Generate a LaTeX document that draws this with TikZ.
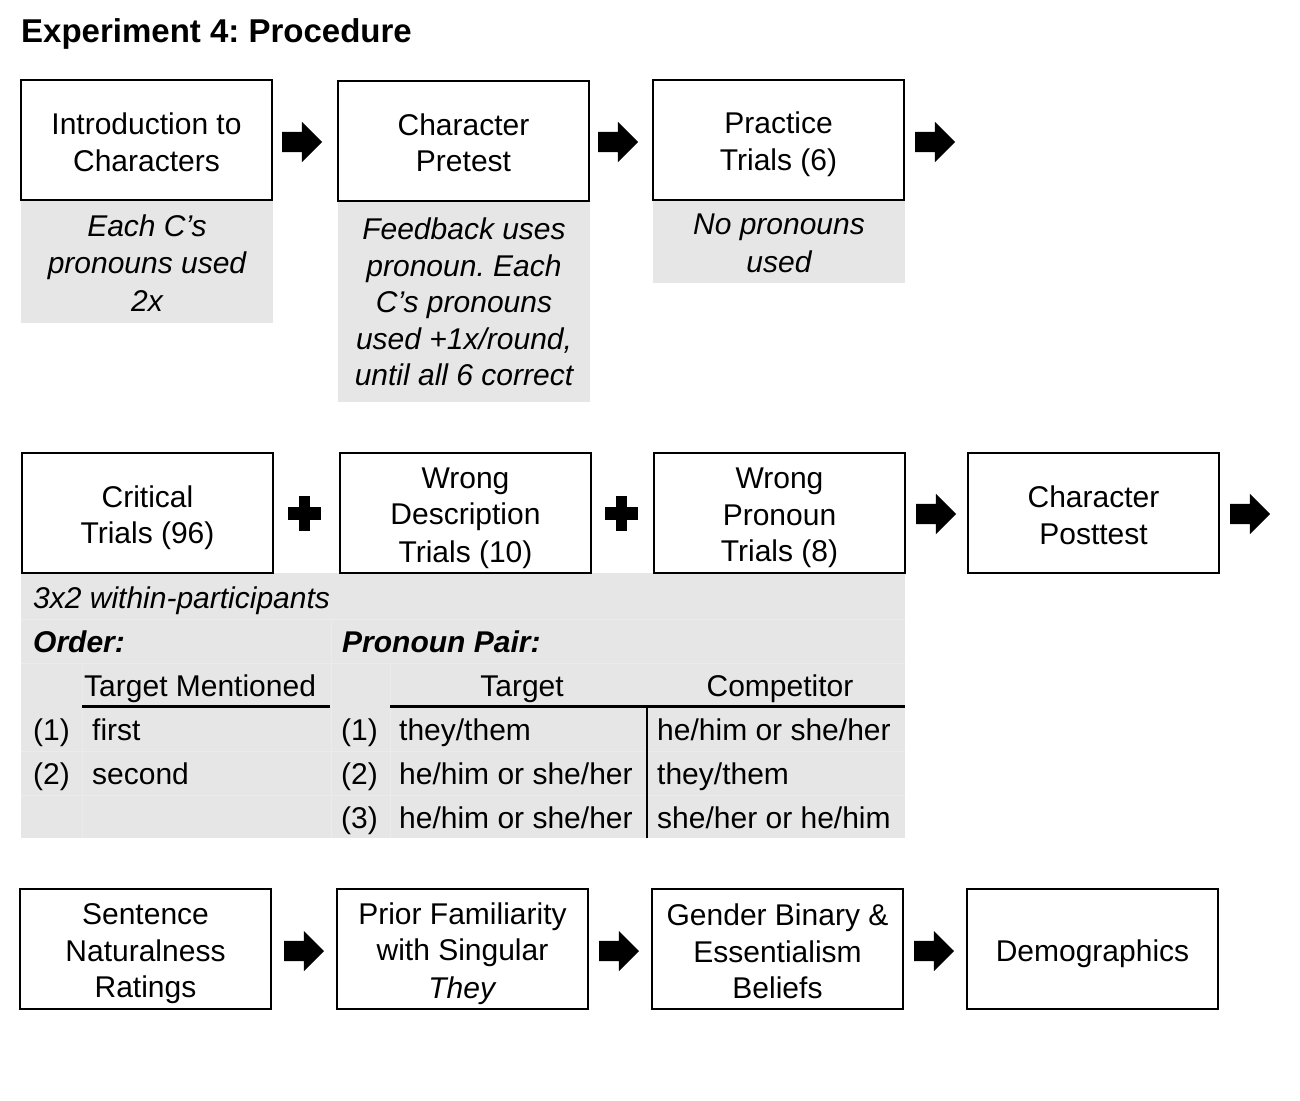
\documentclass[tikz,border=0pt]{standalone}
\usepackage{fontspec}
\setmainfont{Liberation Sans}
\usetikzlibrary{shapes.arrows}
\definecolor{notegray}{HTML}{E6E6E6}
\definecolor{gridgray}{HTML}{EBEBEB}
\newcommand\boxfont{\fontsize{30}{36.5}\selectfont}
\newcommand\bxs{\rule[-4.6pt]{0pt}{35.6pt}}
\frenchspacing
\begin{document}
\frenchspacing
\begin{tikzpicture}[x=1pt,y=-1pt,
  box/.style={draw=black,line width=2pt,minimum width=251pt,minimum height=120pt,inner sep=0pt,align=center,font=\boxfont\frenchspacing},
  note/.style={fill=notegray,minimum width=252pt,inner sep=0pt,align=center,font=\boxfont\itshape\frenchspacing},
  blockarrow/.style={single arrow,fill=black,draw=none,minimum height=40pt,inner sep=10pt,single arrow head extend=10pt,outer sep=0pt,anchor=tail},
  cell/.style={anchor=base west,inner sep=0pt,font=\boxfont},
  ccell/.style={anchor=base,inner sep=0pt,font=\boxfont},
  plussign/.pic={\fill (-16.5,-6.5) rectangle (16.5,6.5); \fill (-5.5,-17.5) rectangle (5.5,17.5);}
]
\useasboundingbox (0,0) rectangle (1300,1100);
\node[anchor=base west,inner sep=0pt,font=\fontsize{33}{40}\selectfont\bfseries\frenchspacing] (title) at (21,42) {Experiment 4: Procedure};

% row 1
\fill[notegray] (21,200) rectangle (273,323);
\fill[notegray] (338,201) rectangle (590,402);
\fill[notegray] (653,200) rectangle (905,283);
\node[note,fill=none] (n1) at (147,261) {\bxs Each C’s\\pronouns used\\2x\bxs};
\node[note,fill=none] (n2) at (464,299.5) {\bxs Feedback uses\\pronoun. Each\\C’s pronouns\\used +1x/round,\\until all 6 correct\bxs};
\node[note,fill=none] (n3) at (779,240) {\bxs No pronouns\\used\bxs};
\node[box] (b1) at (146.5,140) {\bxs Introduction to\\Characters\bxs};
\node[box] (b2) at (463.5,140.5) {\bxs Character\\Pretest\bxs};
\node[box] (b3) at (778.5,139.5) {\bxs Practice\\Trials (6)\bxs};
\node[blockarrow] (a1) at (282,142) {};
\node[blockarrow] (a2) at (598,142) {};
\node[blockarrow] (a3) at (915,142) {};

% row 2
\fill[notegray] (21,573) rectangle (905,838);
\begin{scope}[gridgray,line width=0.8pt]
\draw (21,619) -- (905,619);
\draw (21,663) -- (905,663);
\draw (21,751) -- (905,751);
\draw (21,795) -- (905,795);
\draw (331,619) -- (331,838);
\draw (82,663) -- (82,838);
\draw (390,663) -- (390,838);
\end{scope}
\node[box] (c1) at (147.5,513) {\bxs Critical\\Trials (96)\bxs};
\node[box] (c2) at (465.5,513) {\bxs Wrong\\Description\\Trials (10)\bxs};
\node[box] (c3) at (779.5,513) {\bxs Wrong\\Pronoun\\Trials (8)\bxs};
\node[box] (c4) at (1093.5,513) {\bxs Character\\Posttest\bxs};
\pic (p1) at (304.5,513.5) {plussign};
\pic (p2) at (621.5,513.5) {plussign};
\node[blockarrow] (a4) at (916,514) {};
\node[blockarrow] (a5) at (1230,514) {};

% table
\node[cell,font=\boxfont\itshape] (t0) at (33,608) {3x2 within-participants};
\node[cell,font=\boxfont\bfseries\itshape] (t1) at (33,652) {Order:};
\node[cell,font=\boxfont\bfseries\itshape] (t2) at (342,652) {Pronoun Pair:};
\node[cell] (h1) at (84,696) {Target Mentioned};
\node[ccell] (h2) at (522,696) {Target};
\node[ccell] (h3) at (780,696) {Competitor};
\draw[line width=3pt] (82,706) -- (330,706);
\draw[line width=3pt] (390,706) -- (905,706);
\draw[line width=2.5pt] (647,706) -- (647,838);
\node[cell] (o1) at (33,740) {(1)};
\node[cell] (o1t) at (92,740) {first};
\node[cell] (o2) at (33,784) {(2)};
\node[cell] (o2t) at (92,784) {second};
\node[cell] (r1) at (341,740) {(1)};
\node[cell] (r1t) at (399,740) {they/them};
\node[cell] (r1c) at (657,740) {he/him or she/her};
\node[cell] (r2) at (341,784) {(2)};
\node[cell] (r2t) at (399,784) {he/him or she/her};
\node[cell] (r2c) at (657,784) {they/them};
\node[cell] (r3) at (341,828) {(3)};
\node[cell] (r3t) at (399,828) {he/him or she/her};
\node[cell] (r3c) at (657,828) {she/her or he/him};

% row 3
\node[box] (d1) at (145.5,949) {\bxs Sentence\\Naturalness\\Ratings\bxs};
\node[box] (d2) at (462.5,949) {\bxs Prior Familiarity\\with Singular\\\textit{They}\bxs};
\node[box] (d3) at (777.5,949) {\bxs Gender Binary \&\\Essentialism\\Beliefs\bxs};
\node[box] (d4) at (1092.5,949) {\bxs Demographics\bxs};
\node[blockarrow] (a6) at (284,951) {};
\node[blockarrow] (a7) at (599,951) {};
\node[blockarrow] (a8) at (914,951) {};
\end{tikzpicture}
\end{document}
